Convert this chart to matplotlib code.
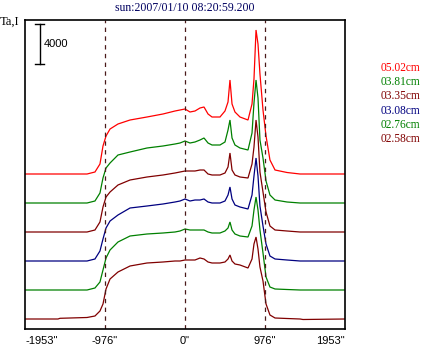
import matplotlib
matplotlib.use("Agg")
import matplotlib.pyplot as plt

# Scan positions (arcsec) shared by all channels
pos = [-1953, -1550, -1526, -1196, -1099, -1038, -1001, -964, -915, -818,
       -671, -464, -269, -122, -61, 0, 61, 122, 183, 232,
       281, 330, 427, 488, 525, 549, 574, 610, 671, 769,
       818, 842, 867, 891, 915, 952, 989, 1037, 1099, 1245,
       1404, 1440, 1953]

# Antenna temperature above each channel's baseline
ta_502 = [0, 0, 0, 0, 200, 1000, 2800, 3800, 4500, 5000,
          5400, 5700, 6000, 6300, 6400, 6500, 6200, 6300, 6600, 6700,
          6000, 5700, 5700, 6300, 7200, 9400, 7000, 6200, 5700, 5400,
          7000, 9500, 14400, 13000, 10000, 6400, 3800, 1400, 400, 150,
          0, 0, 0]
ta_381 = [0, 0, 0, 0, 200, 1000, 2500, 3500, 4000, 4800,
          5100, 5500, 5700, 5900, 6000, 6200, 6000, 6100, 6300, 6500,
          6000, 5800, 5800, 6100, 7300, 8300, 6500, 5800, 5500, 5300,
          7000, 10000, 12300, 10500, 6300, 4500, 2200, 800, 300, 100,
          0, 0, 0]
ta_335 = [0, 0, 0, 0, 200, 1000, 2500, 3500, 4000, 4700,
          5200, 5500, 5700, 5900, 6000, 6100, 6100, 6100, 6200, 6200,
          5800, 5700, 5700, 5900, 6500, 7900, 6200, 5700, 5500, 5400,
          6800, 8500, 11200, 9500, 6000, 4000, 2000, 600, 200, 100,
          0, 0, 0]
ta_308 = [0, 0, 0, 0, 200, 1000, 2200, 3300, 4000, 4600,
          5300, 5500, 5700, 5900, 6000, 6200, 6000, 6100, 6100, 6200,
          5900, 5800, 5800, 6000, 6600, 7400, 6200, 5600, 5400, 5200,
          6600, 8500, 10300, 8500, 5500, 3500, 1700, 500, 200, 100,
          0, 0, 0]
ta_276 = [0, 0, 0, 0, 200, 800, 2000, 3200, 4000, 4800,
          5400, 5600, 5700, 5800, 5900, 6100, 6000, 6000, 6000, 6000,
          5800, 5700, 5700, 5900, 6200, 6800, 6000, 5600, 5400, 5300,
          6400, 8000, 9300, 8000, 6000, 3700, 1300, 300, 100, 50,
          0, 0, 0]
ta_258 = [0, 0, 70, 150, 300, 800, 1500, 3000, 4000, 4700,
          5300, 5600, 5700, 5800, 5800, 5900, 5900, 5900, 6100, 6000,
          5700, 5600, 5600, 5700, 6000, 6400, 5800, 5500, 5400, 5100,
          6000, 7500, 8200, 7000, 5200, 3800, 1500, 400, 100, 50,
          0, -50, 0]

labels = ["05.02cm", "03.81cm", "03.35cm", "03.08cm", "02.76cm", "02.58cm"]
series = [ta_502, ta_381, ta_335, ta_308, ta_276, ta_258]
colors = ["#ff0000", "#008000", "#800000", "#000080", "#008000", "#800000"]
offsets = [15500, 12600, 9700, 6800, 3900, 1000]

ticks = [-1953, -976, 0, 976, 1953]
tick_labels = ['-1953"', '-976"', '0"', '976"', '1953"']
scale_bar = 4000
title = "sun:2007/01/10 08:20:59.200"

W, H = 423, 347
fig = plt.figure(figsize=(W / 100, H / 100), dpi=100)
fig.patch.set_facecolor("white")
ax = fig.add_axes([25 / W, (H - 329) / H, 320 / W, 309 / H])
ax.set_xlim(-1953, 1953)
ax.set_ylim(0, 30900)

for vals, col, off in zip(series, colors, offsets):
    ax.plot(pos, [v + off for v in vals], color=col, lw=0.9, solid_joinstyle="miter")

for t in ticks[1:-1]:
    ax.axvline(t, color="#4a1a1a", lw=0.9, ls=(0, (3.5, 3.5)))

# scale bar
bx = -1770
ax.plot([bx, bx], [30500, 30500 - scale_bar], color="black", lw=1.0)
ax.plot([bx - 55, bx + 55], [30500, 30500], color="black", lw=1.0)
ax.plot([bx - 55, bx + 55], [30500 - scale_bar, 30500 - scale_bar], color="black", lw=1.0)
ax.text(bx + 45, 30500 - scale_bar / 2, str(scale_bar), fontsize=8,
        family="Liberation Sans", va="center", ha="left")

ax.set_xticks(ticks)
ax.set_xticklabels(tick_labels, family="Liberation Sans", fontsize=8)
ax.tick_params(axis="x", length=0, pad=5)
tl = ax.get_xticklabels()
tl[0].set_horizontalalignment("left")
tl[-1].set_horizontalalignment("right")
ax.set_yticks([])
for s in ax.spines.values():
    s.set_linewidth(1.2)
    s.set_color("black")

fig.text(185 / W, 1 - 8 / H, title, color="#000060", family="Liberation Serif",
         fontsize=8.5, ha="center", va="center")
fig.text(0 / W, 1 - 22 / H, "Ta,I", color="black", family="Liberation Serif",
         fontsize=9, ha="left", va="center")

for i, (lab, col) in enumerate(zip(labels, colors)):
    fig.text(381 / W, 1 - (68 + 14.2 * i) / H, lab, color=col,
             family="Liberation Serif", fontsize=8.3, ha="left", va="center")

fig.savefig("out.png", dpi=100)
